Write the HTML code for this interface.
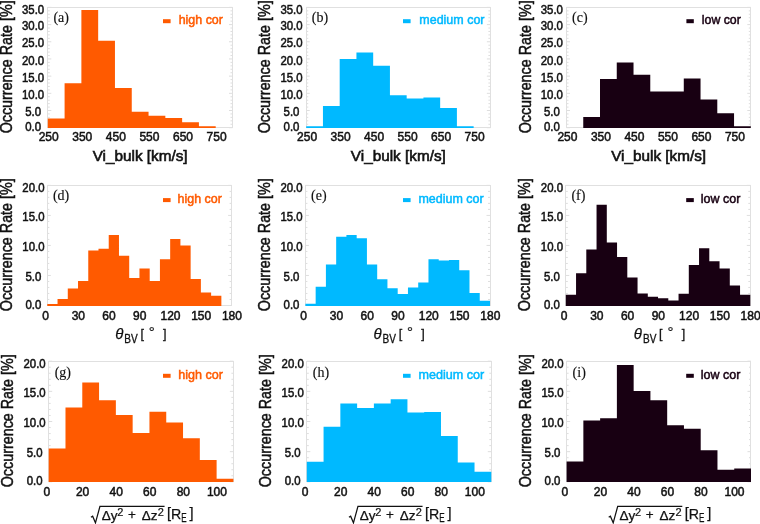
<!DOCTYPE html>
<html><head><meta charset="utf-8"><style>
html,body{margin:0;padding:0;background:#fff;width:760px;height:524px;overflow:hidden}
svg{display:block;will-change:transform}
.tk{font-family:"Liberation Sans", sans-serif;font-size:12px;fill:#111;stroke:#111;stroke-width:0.5px}
.yl{font-family:"Liberation Sans", sans-serif;font-size:16.2px;fill:#111;stroke:#111;stroke-width:0.5px}
.xl{font-family:"Liberation Sans", sans-serif;font-size:14.8px;fill:#111;stroke:#111;stroke-width:0.6px}
.pl{font-family:"Liberation Serif", serif;font-size:14px;fill:#111;stroke:#111;stroke-width:0.15px}
.lg{font-family:"Liberation Sans", sans-serif;font-size:13px;stroke-width:0.5px}
.th{font-family:"Liberation Sans", sans-serif;font-style:italic;font-size:15px;fill:#111;stroke:#111;stroke-width:0.25px}
.sb{font-family:"Liberation Sans", sans-serif;font-size:12px;fill:#111;stroke:#111;stroke-width:0.3px}
.br{font-family:"Liberation Sans", sans-serif;font-size:12.5px;fill:#111;stroke:#111;stroke-width:0.3px}
.br2{font-family:"Liberation Sans", sans-serif;font-size:14.5px;fill:#111;stroke:#111;stroke-width:0.25px}
.pl2{font-size:12.5px;stroke-width:0.6px}
.dg{font-family:"Liberation Sans", sans-serif;font-size:15px;fill:#111;stroke:#111;stroke-width:0.2px}
.fm{font-family:"Liberation Sans", sans-serif;font-size:13.5px;fill:#111;stroke:#111;stroke-width:0.25px}
.sp{font-family:"Liberation Sans", sans-serif;font-size:11px;fill:#111;stroke:#111;stroke-width:0.2px}
.sb2{font-family:"Liberation Sans", sans-serif;font-size:12px;fill:#111;stroke:#111;stroke-width:0.25px}
</style></head><body>
<svg width="760" height="524" viewBox="0 0 760 524">
<rect width="760" height="524" fill="#fff"/>
<line x1="47.8" y1="127.7" x2="51.3" y2="127.7" stroke="#d6d6d6" stroke-width="0.8"/>
<line x1="232.5" y1="127.7" x2="229" y2="127.7" stroke="#d6d6d6" stroke-width="0.8"/>
<line x1="47.8" y1="124.26" x2="49.8" y2="124.26" stroke="#d6d6d6" stroke-width="0.8"/>
<line x1="232.5" y1="124.26" x2="230.5" y2="124.26" stroke="#d6d6d6" stroke-width="0.8"/>
<line x1="47.8" y1="120.83" x2="49.8" y2="120.83" stroke="#d6d6d6" stroke-width="0.8"/>
<line x1="232.5" y1="120.83" x2="230.5" y2="120.83" stroke="#d6d6d6" stroke-width="0.8"/>
<line x1="47.8" y1="117.39" x2="49.8" y2="117.39" stroke="#d6d6d6" stroke-width="0.8"/>
<line x1="232.5" y1="117.39" x2="230.5" y2="117.39" stroke="#d6d6d6" stroke-width="0.8"/>
<line x1="47.8" y1="113.95" x2="49.8" y2="113.95" stroke="#d6d6d6" stroke-width="0.8"/>
<line x1="232.5" y1="113.95" x2="230.5" y2="113.95" stroke="#d6d6d6" stroke-width="0.8"/>
<line x1="47.8" y1="110.51" x2="51.3" y2="110.51" stroke="#d6d6d6" stroke-width="0.8"/>
<line x1="232.5" y1="110.51" x2="229" y2="110.51" stroke="#d6d6d6" stroke-width="0.8"/>
<line x1="47.8" y1="107.08" x2="49.8" y2="107.08" stroke="#d6d6d6" stroke-width="0.8"/>
<line x1="232.5" y1="107.08" x2="230.5" y2="107.08" stroke="#d6d6d6" stroke-width="0.8"/>
<line x1="47.8" y1="103.64" x2="49.8" y2="103.64" stroke="#d6d6d6" stroke-width="0.8"/>
<line x1="232.5" y1="103.64" x2="230.5" y2="103.64" stroke="#d6d6d6" stroke-width="0.8"/>
<line x1="47.8" y1="100.2" x2="49.8" y2="100.2" stroke="#d6d6d6" stroke-width="0.8"/>
<line x1="232.5" y1="100.2" x2="230.5" y2="100.2" stroke="#d6d6d6" stroke-width="0.8"/>
<line x1="47.8" y1="96.77" x2="49.8" y2="96.77" stroke="#d6d6d6" stroke-width="0.8"/>
<line x1="232.5" y1="96.77" x2="230.5" y2="96.77" stroke="#d6d6d6" stroke-width="0.8"/>
<line x1="47.8" y1="93.33" x2="51.3" y2="93.33" stroke="#d6d6d6" stroke-width="0.8"/>
<line x1="232.5" y1="93.33" x2="229" y2="93.33" stroke="#d6d6d6" stroke-width="0.8"/>
<line x1="47.8" y1="89.89" x2="49.8" y2="89.89" stroke="#d6d6d6" stroke-width="0.8"/>
<line x1="232.5" y1="89.89" x2="230.5" y2="89.89" stroke="#d6d6d6" stroke-width="0.8"/>
<line x1="47.8" y1="86.45" x2="49.8" y2="86.45" stroke="#d6d6d6" stroke-width="0.8"/>
<line x1="232.5" y1="86.45" x2="230.5" y2="86.45" stroke="#d6d6d6" stroke-width="0.8"/>
<line x1="47.8" y1="83.02" x2="49.8" y2="83.02" stroke="#d6d6d6" stroke-width="0.8"/>
<line x1="232.5" y1="83.02" x2="230.5" y2="83.02" stroke="#d6d6d6" stroke-width="0.8"/>
<line x1="47.8" y1="79.58" x2="49.8" y2="79.58" stroke="#d6d6d6" stroke-width="0.8"/>
<line x1="232.5" y1="79.58" x2="230.5" y2="79.58" stroke="#d6d6d6" stroke-width="0.8"/>
<line x1="47.8" y1="76.14" x2="51.3" y2="76.14" stroke="#d6d6d6" stroke-width="0.8"/>
<line x1="232.5" y1="76.14" x2="229" y2="76.14" stroke="#d6d6d6" stroke-width="0.8"/>
<line x1="47.8" y1="72.71" x2="49.8" y2="72.71" stroke="#d6d6d6" stroke-width="0.8"/>
<line x1="232.5" y1="72.71" x2="230.5" y2="72.71" stroke="#d6d6d6" stroke-width="0.8"/>
<line x1="47.8" y1="69.27" x2="49.8" y2="69.27" stroke="#d6d6d6" stroke-width="0.8"/>
<line x1="232.5" y1="69.27" x2="230.5" y2="69.27" stroke="#d6d6d6" stroke-width="0.8"/>
<line x1="47.8" y1="65.83" x2="49.8" y2="65.83" stroke="#d6d6d6" stroke-width="0.8"/>
<line x1="232.5" y1="65.83" x2="230.5" y2="65.83" stroke="#d6d6d6" stroke-width="0.8"/>
<line x1="47.8" y1="62.39" x2="49.8" y2="62.39" stroke="#d6d6d6" stroke-width="0.8"/>
<line x1="232.5" y1="62.39" x2="230.5" y2="62.39" stroke="#d6d6d6" stroke-width="0.8"/>
<line x1="47.8" y1="58.96" x2="51.3" y2="58.96" stroke="#d6d6d6" stroke-width="0.8"/>
<line x1="232.5" y1="58.96" x2="229" y2="58.96" stroke="#d6d6d6" stroke-width="0.8"/>
<line x1="47.8" y1="55.52" x2="49.8" y2="55.52" stroke="#d6d6d6" stroke-width="0.8"/>
<line x1="232.5" y1="55.52" x2="230.5" y2="55.52" stroke="#d6d6d6" stroke-width="0.8"/>
<line x1="47.8" y1="52.08" x2="49.8" y2="52.08" stroke="#d6d6d6" stroke-width="0.8"/>
<line x1="232.5" y1="52.08" x2="230.5" y2="52.08" stroke="#d6d6d6" stroke-width="0.8"/>
<line x1="47.8" y1="48.65" x2="49.8" y2="48.65" stroke="#d6d6d6" stroke-width="0.8"/>
<line x1="232.5" y1="48.65" x2="230.5" y2="48.65" stroke="#d6d6d6" stroke-width="0.8"/>
<line x1="47.8" y1="45.21" x2="49.8" y2="45.21" stroke="#d6d6d6" stroke-width="0.8"/>
<line x1="232.5" y1="45.21" x2="230.5" y2="45.21" stroke="#d6d6d6" stroke-width="0.8"/>
<line x1="47.8" y1="41.77" x2="51.3" y2="41.77" stroke="#d6d6d6" stroke-width="0.8"/>
<line x1="232.5" y1="41.77" x2="229" y2="41.77" stroke="#d6d6d6" stroke-width="0.8"/>
<line x1="47.8" y1="38.33" x2="49.8" y2="38.33" stroke="#d6d6d6" stroke-width="0.8"/>
<line x1="232.5" y1="38.33" x2="230.5" y2="38.33" stroke="#d6d6d6" stroke-width="0.8"/>
<line x1="47.8" y1="34.9" x2="49.8" y2="34.9" stroke="#d6d6d6" stroke-width="0.8"/>
<line x1="232.5" y1="34.9" x2="230.5" y2="34.9" stroke="#d6d6d6" stroke-width="0.8"/>
<line x1="47.8" y1="31.46" x2="49.8" y2="31.46" stroke="#d6d6d6" stroke-width="0.8"/>
<line x1="232.5" y1="31.46" x2="230.5" y2="31.46" stroke="#d6d6d6" stroke-width="0.8"/>
<line x1="47.8" y1="28.02" x2="49.8" y2="28.02" stroke="#d6d6d6" stroke-width="0.8"/>
<line x1="232.5" y1="28.02" x2="230.5" y2="28.02" stroke="#d6d6d6" stroke-width="0.8"/>
<line x1="47.8" y1="24.59" x2="51.3" y2="24.59" stroke="#d6d6d6" stroke-width="0.8"/>
<line x1="232.5" y1="24.59" x2="229" y2="24.59" stroke="#d6d6d6" stroke-width="0.8"/>
<line x1="47.8" y1="21.15" x2="49.8" y2="21.15" stroke="#d6d6d6" stroke-width="0.8"/>
<line x1="232.5" y1="21.15" x2="230.5" y2="21.15" stroke="#d6d6d6" stroke-width="0.8"/>
<line x1="47.8" y1="17.71" x2="49.8" y2="17.71" stroke="#d6d6d6" stroke-width="0.8"/>
<line x1="232.5" y1="17.71" x2="230.5" y2="17.71" stroke="#d6d6d6" stroke-width="0.8"/>
<line x1="47.8" y1="14.27" x2="49.8" y2="14.27" stroke="#d6d6d6" stroke-width="0.8"/>
<line x1="232.5" y1="14.27" x2="230.5" y2="14.27" stroke="#d6d6d6" stroke-width="0.8"/>
<line x1="47.8" y1="10.84" x2="49.8" y2="10.84" stroke="#d6d6d6" stroke-width="0.8"/>
<line x1="232.5" y1="10.84" x2="230.5" y2="10.84" stroke="#d6d6d6" stroke-width="0.8"/>
<line x1="47.8" y1="7.4" x2="51.3" y2="7.4" stroke="#d6d6d6" stroke-width="0.8"/>
<line x1="232.5" y1="7.4" x2="229" y2="7.4" stroke="#d6d6d6" stroke-width="0.8"/>
<rect x="47.5" y="7.5" width="185" height="120" fill="none" stroke="#e0e0e0" stroke-width="1"/>
<path d="M47.8 128 L47.8 118.4 L64.59 118.4 L64.59 83.2 L81.38 83.2 L81.38 10 L98.17 10 L98.17 40.8 L114.96 40.8 L114.96 87.9 L131.75 87.9 L131.75 111.8 L148.55 111.8 L148.55 115.8 L165.34 115.8 L165.34 117.9 L182.13 117.9 L182.13 122.2 L198.92 122.2 L198.92 126.2 L215.71 126.2 L215.71 128 Z" fill="#FF5A00"/>
<text x="33.1" y="131.1" text-anchor="middle" class="tk" textLength="15.85" lengthAdjust="spacingAndGlyphs">0.0</text>
<text x="33.1" y="116.11" text-anchor="middle" class="tk" textLength="15.85" lengthAdjust="spacingAndGlyphs">5.0</text>
<text x="33.1" y="98.93" text-anchor="middle" class="tk" textLength="22.18" lengthAdjust="spacingAndGlyphs">10.0</text>
<text x="33.1" y="81.74" text-anchor="middle" class="tk" textLength="22.18" lengthAdjust="spacingAndGlyphs">15.0</text>
<text x="33.1" y="64.56" text-anchor="middle" class="tk" textLength="22.18" lengthAdjust="spacingAndGlyphs">20.0</text>
<text x="33.1" y="47.37" text-anchor="middle" class="tk" textLength="22.18" lengthAdjust="spacingAndGlyphs">25.0</text>
<text x="33.1" y="30.19" text-anchor="middle" class="tk" textLength="22.18" lengthAdjust="spacingAndGlyphs">30.0</text>
<text x="33.1" y="13.8" text-anchor="middle" class="tk" textLength="22.18" lengthAdjust="spacingAndGlyphs">35.0</text>
<text x="48.7" y="140.7" text-anchor="middle" class="tk">250</text>
<text x="82.28" y="140.7" text-anchor="middle" class="tk">350</text>
<text x="115.86" y="140.7" text-anchor="middle" class="tk">450</text>
<text x="149.45" y="140.7" text-anchor="middle" class="tk">550</text>
<text x="183.03" y="140.7" text-anchor="middle" class="tk">650</text>
<text x="216.61" y="140.7" text-anchor="middle" class="tk">750</text>
<text transform="translate(12,66.85) rotate(-90)" text-anchor="middle" class="yl" textLength="133" lengthAdjust="spacingAndGlyphs">Occurrence Rate [%]</text>
<text x="53.4" y="22" class="pl">(a)</text>
<rect x="163" y="19.2" width="7.6" height="4" fill="#FF5A00"/>
<text x="178.7" y="24.3" class="lg" fill="#FF5A00" stroke="#FF5A00" textLength="44.2" lengthAdjust="spacingAndGlyphs">high cor</text>
<text x="140.15" y="161.3" text-anchor="middle" class="xl" textLength="95" lengthAdjust="spacingAndGlyphs">Vi_bulk [km/s]</text>
<line x1="306.2" y1="127.7" x2="309.7" y2="127.7" stroke="#d6d6d6" stroke-width="0.8"/>
<line x1="490.4" y1="127.7" x2="486.9" y2="127.7" stroke="#d6d6d6" stroke-width="0.8"/>
<line x1="306.2" y1="124.26" x2="308.2" y2="124.26" stroke="#d6d6d6" stroke-width="0.8"/>
<line x1="490.4" y1="124.26" x2="488.4" y2="124.26" stroke="#d6d6d6" stroke-width="0.8"/>
<line x1="306.2" y1="120.83" x2="308.2" y2="120.83" stroke="#d6d6d6" stroke-width="0.8"/>
<line x1="490.4" y1="120.83" x2="488.4" y2="120.83" stroke="#d6d6d6" stroke-width="0.8"/>
<line x1="306.2" y1="117.39" x2="308.2" y2="117.39" stroke="#d6d6d6" stroke-width="0.8"/>
<line x1="490.4" y1="117.39" x2="488.4" y2="117.39" stroke="#d6d6d6" stroke-width="0.8"/>
<line x1="306.2" y1="113.95" x2="308.2" y2="113.95" stroke="#d6d6d6" stroke-width="0.8"/>
<line x1="490.4" y1="113.95" x2="488.4" y2="113.95" stroke="#d6d6d6" stroke-width="0.8"/>
<line x1="306.2" y1="110.51" x2="309.7" y2="110.51" stroke="#d6d6d6" stroke-width="0.8"/>
<line x1="490.4" y1="110.51" x2="486.9" y2="110.51" stroke="#d6d6d6" stroke-width="0.8"/>
<line x1="306.2" y1="107.08" x2="308.2" y2="107.08" stroke="#d6d6d6" stroke-width="0.8"/>
<line x1="490.4" y1="107.08" x2="488.4" y2="107.08" stroke="#d6d6d6" stroke-width="0.8"/>
<line x1="306.2" y1="103.64" x2="308.2" y2="103.64" stroke="#d6d6d6" stroke-width="0.8"/>
<line x1="490.4" y1="103.64" x2="488.4" y2="103.64" stroke="#d6d6d6" stroke-width="0.8"/>
<line x1="306.2" y1="100.2" x2="308.2" y2="100.2" stroke="#d6d6d6" stroke-width="0.8"/>
<line x1="490.4" y1="100.2" x2="488.4" y2="100.2" stroke="#d6d6d6" stroke-width="0.8"/>
<line x1="306.2" y1="96.77" x2="308.2" y2="96.77" stroke="#d6d6d6" stroke-width="0.8"/>
<line x1="490.4" y1="96.77" x2="488.4" y2="96.77" stroke="#d6d6d6" stroke-width="0.8"/>
<line x1="306.2" y1="93.33" x2="309.7" y2="93.33" stroke="#d6d6d6" stroke-width="0.8"/>
<line x1="490.4" y1="93.33" x2="486.9" y2="93.33" stroke="#d6d6d6" stroke-width="0.8"/>
<line x1="306.2" y1="89.89" x2="308.2" y2="89.89" stroke="#d6d6d6" stroke-width="0.8"/>
<line x1="490.4" y1="89.89" x2="488.4" y2="89.89" stroke="#d6d6d6" stroke-width="0.8"/>
<line x1="306.2" y1="86.45" x2="308.2" y2="86.45" stroke="#d6d6d6" stroke-width="0.8"/>
<line x1="490.4" y1="86.45" x2="488.4" y2="86.45" stroke="#d6d6d6" stroke-width="0.8"/>
<line x1="306.2" y1="83.02" x2="308.2" y2="83.02" stroke="#d6d6d6" stroke-width="0.8"/>
<line x1="490.4" y1="83.02" x2="488.4" y2="83.02" stroke="#d6d6d6" stroke-width="0.8"/>
<line x1="306.2" y1="79.58" x2="308.2" y2="79.58" stroke="#d6d6d6" stroke-width="0.8"/>
<line x1="490.4" y1="79.58" x2="488.4" y2="79.58" stroke="#d6d6d6" stroke-width="0.8"/>
<line x1="306.2" y1="76.14" x2="309.7" y2="76.14" stroke="#d6d6d6" stroke-width="0.8"/>
<line x1="490.4" y1="76.14" x2="486.9" y2="76.14" stroke="#d6d6d6" stroke-width="0.8"/>
<line x1="306.2" y1="72.71" x2="308.2" y2="72.71" stroke="#d6d6d6" stroke-width="0.8"/>
<line x1="490.4" y1="72.71" x2="488.4" y2="72.71" stroke="#d6d6d6" stroke-width="0.8"/>
<line x1="306.2" y1="69.27" x2="308.2" y2="69.27" stroke="#d6d6d6" stroke-width="0.8"/>
<line x1="490.4" y1="69.27" x2="488.4" y2="69.27" stroke="#d6d6d6" stroke-width="0.8"/>
<line x1="306.2" y1="65.83" x2="308.2" y2="65.83" stroke="#d6d6d6" stroke-width="0.8"/>
<line x1="490.4" y1="65.83" x2="488.4" y2="65.83" stroke="#d6d6d6" stroke-width="0.8"/>
<line x1="306.2" y1="62.39" x2="308.2" y2="62.39" stroke="#d6d6d6" stroke-width="0.8"/>
<line x1="490.4" y1="62.39" x2="488.4" y2="62.39" stroke="#d6d6d6" stroke-width="0.8"/>
<line x1="306.2" y1="58.96" x2="309.7" y2="58.96" stroke="#d6d6d6" stroke-width="0.8"/>
<line x1="490.4" y1="58.96" x2="486.9" y2="58.96" stroke="#d6d6d6" stroke-width="0.8"/>
<line x1="306.2" y1="55.52" x2="308.2" y2="55.52" stroke="#d6d6d6" stroke-width="0.8"/>
<line x1="490.4" y1="55.52" x2="488.4" y2="55.52" stroke="#d6d6d6" stroke-width="0.8"/>
<line x1="306.2" y1="52.08" x2="308.2" y2="52.08" stroke="#d6d6d6" stroke-width="0.8"/>
<line x1="490.4" y1="52.08" x2="488.4" y2="52.08" stroke="#d6d6d6" stroke-width="0.8"/>
<line x1="306.2" y1="48.65" x2="308.2" y2="48.65" stroke="#d6d6d6" stroke-width="0.8"/>
<line x1="490.4" y1="48.65" x2="488.4" y2="48.65" stroke="#d6d6d6" stroke-width="0.8"/>
<line x1="306.2" y1="45.21" x2="308.2" y2="45.21" stroke="#d6d6d6" stroke-width="0.8"/>
<line x1="490.4" y1="45.21" x2="488.4" y2="45.21" stroke="#d6d6d6" stroke-width="0.8"/>
<line x1="306.2" y1="41.77" x2="309.7" y2="41.77" stroke="#d6d6d6" stroke-width="0.8"/>
<line x1="490.4" y1="41.77" x2="486.9" y2="41.77" stroke="#d6d6d6" stroke-width="0.8"/>
<line x1="306.2" y1="38.33" x2="308.2" y2="38.33" stroke="#d6d6d6" stroke-width="0.8"/>
<line x1="490.4" y1="38.33" x2="488.4" y2="38.33" stroke="#d6d6d6" stroke-width="0.8"/>
<line x1="306.2" y1="34.9" x2="308.2" y2="34.9" stroke="#d6d6d6" stroke-width="0.8"/>
<line x1="490.4" y1="34.9" x2="488.4" y2="34.9" stroke="#d6d6d6" stroke-width="0.8"/>
<line x1="306.2" y1="31.46" x2="308.2" y2="31.46" stroke="#d6d6d6" stroke-width="0.8"/>
<line x1="490.4" y1="31.46" x2="488.4" y2="31.46" stroke="#d6d6d6" stroke-width="0.8"/>
<line x1="306.2" y1="28.02" x2="308.2" y2="28.02" stroke="#d6d6d6" stroke-width="0.8"/>
<line x1="490.4" y1="28.02" x2="488.4" y2="28.02" stroke="#d6d6d6" stroke-width="0.8"/>
<line x1="306.2" y1="24.59" x2="309.7" y2="24.59" stroke="#d6d6d6" stroke-width="0.8"/>
<line x1="490.4" y1="24.59" x2="486.9" y2="24.59" stroke="#d6d6d6" stroke-width="0.8"/>
<line x1="306.2" y1="21.15" x2="308.2" y2="21.15" stroke="#d6d6d6" stroke-width="0.8"/>
<line x1="490.4" y1="21.15" x2="488.4" y2="21.15" stroke="#d6d6d6" stroke-width="0.8"/>
<line x1="306.2" y1="17.71" x2="308.2" y2="17.71" stroke="#d6d6d6" stroke-width="0.8"/>
<line x1="490.4" y1="17.71" x2="488.4" y2="17.71" stroke="#d6d6d6" stroke-width="0.8"/>
<line x1="306.2" y1="14.27" x2="308.2" y2="14.27" stroke="#d6d6d6" stroke-width="0.8"/>
<line x1="490.4" y1="14.27" x2="488.4" y2="14.27" stroke="#d6d6d6" stroke-width="0.8"/>
<line x1="306.2" y1="10.84" x2="308.2" y2="10.84" stroke="#d6d6d6" stroke-width="0.8"/>
<line x1="490.4" y1="10.84" x2="488.4" y2="10.84" stroke="#d6d6d6" stroke-width="0.8"/>
<line x1="306.2" y1="7.4" x2="309.7" y2="7.4" stroke="#d6d6d6" stroke-width="0.8"/>
<line x1="490.4" y1="7.4" x2="486.9" y2="7.4" stroke="#d6d6d6" stroke-width="0.8"/>
<rect x="306.5" y="7.5" width="184" height="120" fill="none" stroke="#e0e0e0" stroke-width="1"/>
<path d="M306.2 128 L306.2 126.2 L322.95 126.2 L322.95 106 L339.69 106 L339.69 59 L356.44 59 L356.44 52.6 L373.18 52.6 L373.18 65.8 L389.93 65.8 L389.93 95.3 L406.67 95.3 L406.67 98.4 L423.42 98.4 L423.42 97.4 L440.16 97.4 L440.16 107.9 L456.91 107.9 L456.91 126.2 L473.65 126.2 L473.65 128 Z" fill="#00B9FF"/>
<text x="291.5" y="131.1" text-anchor="middle" class="tk" textLength="15.85" lengthAdjust="spacingAndGlyphs">0.0</text>
<text x="291.5" y="116.11" text-anchor="middle" class="tk" textLength="15.85" lengthAdjust="spacingAndGlyphs">5.0</text>
<text x="291.5" y="98.93" text-anchor="middle" class="tk" textLength="22.18" lengthAdjust="spacingAndGlyphs">10.0</text>
<text x="291.5" y="81.74" text-anchor="middle" class="tk" textLength="22.18" lengthAdjust="spacingAndGlyphs">15.0</text>
<text x="291.5" y="64.56" text-anchor="middle" class="tk" textLength="22.18" lengthAdjust="spacingAndGlyphs">20.0</text>
<text x="291.5" y="47.37" text-anchor="middle" class="tk" textLength="22.18" lengthAdjust="spacingAndGlyphs">25.0</text>
<text x="291.5" y="30.19" text-anchor="middle" class="tk" textLength="22.18" lengthAdjust="spacingAndGlyphs">30.0</text>
<text x="291.5" y="13.8" text-anchor="middle" class="tk" textLength="22.18" lengthAdjust="spacingAndGlyphs">35.0</text>
<text x="307.1" y="140.7" text-anchor="middle" class="tk">250</text>
<text x="340.59" y="140.7" text-anchor="middle" class="tk">350</text>
<text x="374.08" y="140.7" text-anchor="middle" class="tk">450</text>
<text x="407.57" y="140.7" text-anchor="middle" class="tk">550</text>
<text x="441.06" y="140.7" text-anchor="middle" class="tk">650</text>
<text x="474.55" y="140.7" text-anchor="middle" class="tk">750</text>
<text transform="translate(270.4,66.85) rotate(-90)" text-anchor="middle" class="yl" textLength="133" lengthAdjust="spacingAndGlyphs">Occurrence Rate [%]</text>
<text x="311.8" y="22" class="pl">(b)</text>
<rect x="403" y="19.2" width="7.6" height="4" fill="#00B9FF"/>
<text x="419.3" y="24.3" class="lg" fill="#00B9FF" stroke="#00B9FF" textLength="65.2" lengthAdjust="spacingAndGlyphs">medium cor</text>
<text x="398.3" y="161.3" text-anchor="middle" class="xl" textLength="95" lengthAdjust="spacingAndGlyphs">Vi_bulk [km/s]</text>
<line x1="566.5" y1="127.7" x2="570" y2="127.7" stroke="#d6d6d6" stroke-width="0.8"/>
<line x1="750.8" y1="127.7" x2="747.3" y2="127.7" stroke="#d6d6d6" stroke-width="0.8"/>
<line x1="566.5" y1="124.26" x2="568.5" y2="124.26" stroke="#d6d6d6" stroke-width="0.8"/>
<line x1="750.8" y1="124.26" x2="748.8" y2="124.26" stroke="#d6d6d6" stroke-width="0.8"/>
<line x1="566.5" y1="120.83" x2="568.5" y2="120.83" stroke="#d6d6d6" stroke-width="0.8"/>
<line x1="750.8" y1="120.83" x2="748.8" y2="120.83" stroke="#d6d6d6" stroke-width="0.8"/>
<line x1="566.5" y1="117.39" x2="568.5" y2="117.39" stroke="#d6d6d6" stroke-width="0.8"/>
<line x1="750.8" y1="117.39" x2="748.8" y2="117.39" stroke="#d6d6d6" stroke-width="0.8"/>
<line x1="566.5" y1="113.95" x2="568.5" y2="113.95" stroke="#d6d6d6" stroke-width="0.8"/>
<line x1="750.8" y1="113.95" x2="748.8" y2="113.95" stroke="#d6d6d6" stroke-width="0.8"/>
<line x1="566.5" y1="110.51" x2="570" y2="110.51" stroke="#d6d6d6" stroke-width="0.8"/>
<line x1="750.8" y1="110.51" x2="747.3" y2="110.51" stroke="#d6d6d6" stroke-width="0.8"/>
<line x1="566.5" y1="107.08" x2="568.5" y2="107.08" stroke="#d6d6d6" stroke-width="0.8"/>
<line x1="750.8" y1="107.08" x2="748.8" y2="107.08" stroke="#d6d6d6" stroke-width="0.8"/>
<line x1="566.5" y1="103.64" x2="568.5" y2="103.64" stroke="#d6d6d6" stroke-width="0.8"/>
<line x1="750.8" y1="103.64" x2="748.8" y2="103.64" stroke="#d6d6d6" stroke-width="0.8"/>
<line x1="566.5" y1="100.2" x2="568.5" y2="100.2" stroke="#d6d6d6" stroke-width="0.8"/>
<line x1="750.8" y1="100.2" x2="748.8" y2="100.2" stroke="#d6d6d6" stroke-width="0.8"/>
<line x1="566.5" y1="96.77" x2="568.5" y2="96.77" stroke="#d6d6d6" stroke-width="0.8"/>
<line x1="750.8" y1="96.77" x2="748.8" y2="96.77" stroke="#d6d6d6" stroke-width="0.8"/>
<line x1="566.5" y1="93.33" x2="570" y2="93.33" stroke="#d6d6d6" stroke-width="0.8"/>
<line x1="750.8" y1="93.33" x2="747.3" y2="93.33" stroke="#d6d6d6" stroke-width="0.8"/>
<line x1="566.5" y1="89.89" x2="568.5" y2="89.89" stroke="#d6d6d6" stroke-width="0.8"/>
<line x1="750.8" y1="89.89" x2="748.8" y2="89.89" stroke="#d6d6d6" stroke-width="0.8"/>
<line x1="566.5" y1="86.45" x2="568.5" y2="86.45" stroke="#d6d6d6" stroke-width="0.8"/>
<line x1="750.8" y1="86.45" x2="748.8" y2="86.45" stroke="#d6d6d6" stroke-width="0.8"/>
<line x1="566.5" y1="83.02" x2="568.5" y2="83.02" stroke="#d6d6d6" stroke-width="0.8"/>
<line x1="750.8" y1="83.02" x2="748.8" y2="83.02" stroke="#d6d6d6" stroke-width="0.8"/>
<line x1="566.5" y1="79.58" x2="568.5" y2="79.58" stroke="#d6d6d6" stroke-width="0.8"/>
<line x1="750.8" y1="79.58" x2="748.8" y2="79.58" stroke="#d6d6d6" stroke-width="0.8"/>
<line x1="566.5" y1="76.14" x2="570" y2="76.14" stroke="#d6d6d6" stroke-width="0.8"/>
<line x1="750.8" y1="76.14" x2="747.3" y2="76.14" stroke="#d6d6d6" stroke-width="0.8"/>
<line x1="566.5" y1="72.71" x2="568.5" y2="72.71" stroke="#d6d6d6" stroke-width="0.8"/>
<line x1="750.8" y1="72.71" x2="748.8" y2="72.71" stroke="#d6d6d6" stroke-width="0.8"/>
<line x1="566.5" y1="69.27" x2="568.5" y2="69.27" stroke="#d6d6d6" stroke-width="0.8"/>
<line x1="750.8" y1="69.27" x2="748.8" y2="69.27" stroke="#d6d6d6" stroke-width="0.8"/>
<line x1="566.5" y1="65.83" x2="568.5" y2="65.83" stroke="#d6d6d6" stroke-width="0.8"/>
<line x1="750.8" y1="65.83" x2="748.8" y2="65.83" stroke="#d6d6d6" stroke-width="0.8"/>
<line x1="566.5" y1="62.39" x2="568.5" y2="62.39" stroke="#d6d6d6" stroke-width="0.8"/>
<line x1="750.8" y1="62.39" x2="748.8" y2="62.39" stroke="#d6d6d6" stroke-width="0.8"/>
<line x1="566.5" y1="58.96" x2="570" y2="58.96" stroke="#d6d6d6" stroke-width="0.8"/>
<line x1="750.8" y1="58.96" x2="747.3" y2="58.96" stroke="#d6d6d6" stroke-width="0.8"/>
<line x1="566.5" y1="55.52" x2="568.5" y2="55.52" stroke="#d6d6d6" stroke-width="0.8"/>
<line x1="750.8" y1="55.52" x2="748.8" y2="55.52" stroke="#d6d6d6" stroke-width="0.8"/>
<line x1="566.5" y1="52.08" x2="568.5" y2="52.08" stroke="#d6d6d6" stroke-width="0.8"/>
<line x1="750.8" y1="52.08" x2="748.8" y2="52.08" stroke="#d6d6d6" stroke-width="0.8"/>
<line x1="566.5" y1="48.65" x2="568.5" y2="48.65" stroke="#d6d6d6" stroke-width="0.8"/>
<line x1="750.8" y1="48.65" x2="748.8" y2="48.65" stroke="#d6d6d6" stroke-width="0.8"/>
<line x1="566.5" y1="45.21" x2="568.5" y2="45.21" stroke="#d6d6d6" stroke-width="0.8"/>
<line x1="750.8" y1="45.21" x2="748.8" y2="45.21" stroke="#d6d6d6" stroke-width="0.8"/>
<line x1="566.5" y1="41.77" x2="570" y2="41.77" stroke="#d6d6d6" stroke-width="0.8"/>
<line x1="750.8" y1="41.77" x2="747.3" y2="41.77" stroke="#d6d6d6" stroke-width="0.8"/>
<line x1="566.5" y1="38.33" x2="568.5" y2="38.33" stroke="#d6d6d6" stroke-width="0.8"/>
<line x1="750.8" y1="38.33" x2="748.8" y2="38.33" stroke="#d6d6d6" stroke-width="0.8"/>
<line x1="566.5" y1="34.9" x2="568.5" y2="34.9" stroke="#d6d6d6" stroke-width="0.8"/>
<line x1="750.8" y1="34.9" x2="748.8" y2="34.9" stroke="#d6d6d6" stroke-width="0.8"/>
<line x1="566.5" y1="31.46" x2="568.5" y2="31.46" stroke="#d6d6d6" stroke-width="0.8"/>
<line x1="750.8" y1="31.46" x2="748.8" y2="31.46" stroke="#d6d6d6" stroke-width="0.8"/>
<line x1="566.5" y1="28.02" x2="568.5" y2="28.02" stroke="#d6d6d6" stroke-width="0.8"/>
<line x1="750.8" y1="28.02" x2="748.8" y2="28.02" stroke="#d6d6d6" stroke-width="0.8"/>
<line x1="566.5" y1="24.59" x2="570" y2="24.59" stroke="#d6d6d6" stroke-width="0.8"/>
<line x1="750.8" y1="24.59" x2="747.3" y2="24.59" stroke="#d6d6d6" stroke-width="0.8"/>
<line x1="566.5" y1="21.15" x2="568.5" y2="21.15" stroke="#d6d6d6" stroke-width="0.8"/>
<line x1="750.8" y1="21.15" x2="748.8" y2="21.15" stroke="#d6d6d6" stroke-width="0.8"/>
<line x1="566.5" y1="17.71" x2="568.5" y2="17.71" stroke="#d6d6d6" stroke-width="0.8"/>
<line x1="750.8" y1="17.71" x2="748.8" y2="17.71" stroke="#d6d6d6" stroke-width="0.8"/>
<line x1="566.5" y1="14.27" x2="568.5" y2="14.27" stroke="#d6d6d6" stroke-width="0.8"/>
<line x1="750.8" y1="14.27" x2="748.8" y2="14.27" stroke="#d6d6d6" stroke-width="0.8"/>
<line x1="566.5" y1="10.84" x2="568.5" y2="10.84" stroke="#d6d6d6" stroke-width="0.8"/>
<line x1="750.8" y1="10.84" x2="748.8" y2="10.84" stroke="#d6d6d6" stroke-width="0.8"/>
<line x1="566.5" y1="7.4" x2="570" y2="7.4" stroke="#d6d6d6" stroke-width="0.8"/>
<line x1="750.8" y1="7.4" x2="747.3" y2="7.4" stroke="#d6d6d6" stroke-width="0.8"/>
<rect x="566.5" y="7.5" width="184" height="120" fill="none" stroke="#e0e0e0" stroke-width="1"/>
<path d="M583.25 128 L583.25 117.1 L600.01 117.1 L600.01 79 L616.76 79 L616.76 62.4 L633.52 62.4 L633.52 74.7 L650.27 74.7 L650.27 91.6 L667.03 91.6 L667.03 91.6 L683.78 91.6 L683.78 78.4 L700.54 78.4 L700.54 99.5 L717.29 99.5 L717.29 113.3 L734.05 113.3 L734.05 126.2 L750.8 126.2 L750.8 128 Z" fill="#180012"/>
<text x="551.8" y="131.1" text-anchor="middle" class="tk" textLength="15.85" lengthAdjust="spacingAndGlyphs">0.0</text>
<text x="551.8" y="116.11" text-anchor="middle" class="tk" textLength="15.85" lengthAdjust="spacingAndGlyphs">5.0</text>
<text x="551.8" y="98.93" text-anchor="middle" class="tk" textLength="22.18" lengthAdjust="spacingAndGlyphs">10.0</text>
<text x="551.8" y="81.74" text-anchor="middle" class="tk" textLength="22.18" lengthAdjust="spacingAndGlyphs">15.0</text>
<text x="551.8" y="64.56" text-anchor="middle" class="tk" textLength="22.18" lengthAdjust="spacingAndGlyphs">20.0</text>
<text x="551.8" y="47.37" text-anchor="middle" class="tk" textLength="22.18" lengthAdjust="spacingAndGlyphs">25.0</text>
<text x="551.8" y="30.19" text-anchor="middle" class="tk" textLength="22.18" lengthAdjust="spacingAndGlyphs">30.0</text>
<text x="551.8" y="13.8" text-anchor="middle" class="tk" textLength="22.18" lengthAdjust="spacingAndGlyphs">35.0</text>
<text x="567.4" y="140.7" text-anchor="middle" class="tk">250</text>
<text x="600.91" y="140.7" text-anchor="middle" class="tk">350</text>
<text x="634.42" y="140.7" text-anchor="middle" class="tk">450</text>
<text x="667.93" y="140.7" text-anchor="middle" class="tk">550</text>
<text x="701.44" y="140.7" text-anchor="middle" class="tk">650</text>
<text x="734.95" y="140.7" text-anchor="middle" class="tk">750</text>
<text transform="translate(530.7,66.85) rotate(-90)" text-anchor="middle" class="yl" textLength="133" lengthAdjust="spacingAndGlyphs">Occurrence Rate [%]</text>
<text x="572.1" y="22" class="pl">(c)</text>
<rect x="686.4" y="19.2" width="7.4" height="4" fill="#180012"/>
<text x="701.8" y="24.3" class="lg" fill="#180012" stroke="#180012" textLength="39" lengthAdjust="spacingAndGlyphs">low cor</text>
<text x="658.65" y="161.3" text-anchor="middle" class="xl" textLength="95" lengthAdjust="spacingAndGlyphs">Vi_bulk [km/s]</text>
<line x1="47.3" y1="305.5" x2="50.8" y2="305.5" stroke="#d6d6d6" stroke-width="0.8"/>
<line x1="231.6" y1="305.5" x2="228.1" y2="305.5" stroke="#d6d6d6" stroke-width="0.8"/>
<line x1="47.3" y1="299.5" x2="49.3" y2="299.5" stroke="#d6d6d6" stroke-width="0.8"/>
<line x1="231.6" y1="299.5" x2="229.6" y2="299.5" stroke="#d6d6d6" stroke-width="0.8"/>
<line x1="47.3" y1="293.49" x2="49.3" y2="293.49" stroke="#d6d6d6" stroke-width="0.8"/>
<line x1="231.6" y1="293.49" x2="229.6" y2="293.49" stroke="#d6d6d6" stroke-width="0.8"/>
<line x1="47.3" y1="287.49" x2="49.3" y2="287.49" stroke="#d6d6d6" stroke-width="0.8"/>
<line x1="231.6" y1="287.49" x2="229.6" y2="287.49" stroke="#d6d6d6" stroke-width="0.8"/>
<line x1="47.3" y1="281.48" x2="49.3" y2="281.48" stroke="#d6d6d6" stroke-width="0.8"/>
<line x1="231.6" y1="281.48" x2="229.6" y2="281.48" stroke="#d6d6d6" stroke-width="0.8"/>
<line x1="47.3" y1="275.48" x2="50.8" y2="275.48" stroke="#d6d6d6" stroke-width="0.8"/>
<line x1="231.6" y1="275.48" x2="228.1" y2="275.48" stroke="#d6d6d6" stroke-width="0.8"/>
<line x1="47.3" y1="269.47" x2="49.3" y2="269.47" stroke="#d6d6d6" stroke-width="0.8"/>
<line x1="231.6" y1="269.47" x2="229.6" y2="269.47" stroke="#d6d6d6" stroke-width="0.8"/>
<line x1="47.3" y1="263.47" x2="49.3" y2="263.47" stroke="#d6d6d6" stroke-width="0.8"/>
<line x1="231.6" y1="263.47" x2="229.6" y2="263.47" stroke="#d6d6d6" stroke-width="0.8"/>
<line x1="47.3" y1="257.46" x2="49.3" y2="257.46" stroke="#d6d6d6" stroke-width="0.8"/>
<line x1="231.6" y1="257.46" x2="229.6" y2="257.46" stroke="#d6d6d6" stroke-width="0.8"/>
<line x1="47.3" y1="251.46" x2="49.3" y2="251.46" stroke="#d6d6d6" stroke-width="0.8"/>
<line x1="231.6" y1="251.46" x2="229.6" y2="251.46" stroke="#d6d6d6" stroke-width="0.8"/>
<line x1="47.3" y1="245.45" x2="50.8" y2="245.45" stroke="#d6d6d6" stroke-width="0.8"/>
<line x1="231.6" y1="245.45" x2="228.1" y2="245.45" stroke="#d6d6d6" stroke-width="0.8"/>
<line x1="47.3" y1="239.44" x2="49.3" y2="239.44" stroke="#d6d6d6" stroke-width="0.8"/>
<line x1="231.6" y1="239.44" x2="229.6" y2="239.44" stroke="#d6d6d6" stroke-width="0.8"/>
<line x1="47.3" y1="233.44" x2="49.3" y2="233.44" stroke="#d6d6d6" stroke-width="0.8"/>
<line x1="231.6" y1="233.44" x2="229.6" y2="233.44" stroke="#d6d6d6" stroke-width="0.8"/>
<line x1="47.3" y1="227.44" x2="49.3" y2="227.44" stroke="#d6d6d6" stroke-width="0.8"/>
<line x1="231.6" y1="227.44" x2="229.6" y2="227.44" stroke="#d6d6d6" stroke-width="0.8"/>
<line x1="47.3" y1="221.43" x2="49.3" y2="221.43" stroke="#d6d6d6" stroke-width="0.8"/>
<line x1="231.6" y1="221.43" x2="229.6" y2="221.43" stroke="#d6d6d6" stroke-width="0.8"/>
<line x1="47.3" y1="215.43" x2="50.8" y2="215.43" stroke="#d6d6d6" stroke-width="0.8"/>
<line x1="231.6" y1="215.43" x2="228.1" y2="215.43" stroke="#d6d6d6" stroke-width="0.8"/>
<line x1="47.3" y1="209.42" x2="49.3" y2="209.42" stroke="#d6d6d6" stroke-width="0.8"/>
<line x1="231.6" y1="209.42" x2="229.6" y2="209.42" stroke="#d6d6d6" stroke-width="0.8"/>
<line x1="47.3" y1="203.42" x2="49.3" y2="203.42" stroke="#d6d6d6" stroke-width="0.8"/>
<line x1="231.6" y1="203.42" x2="229.6" y2="203.42" stroke="#d6d6d6" stroke-width="0.8"/>
<line x1="47.3" y1="197.41" x2="49.3" y2="197.41" stroke="#d6d6d6" stroke-width="0.8"/>
<line x1="231.6" y1="197.41" x2="229.6" y2="197.41" stroke="#d6d6d6" stroke-width="0.8"/>
<line x1="47.3" y1="191.41" x2="49.3" y2="191.41" stroke="#d6d6d6" stroke-width="0.8"/>
<line x1="231.6" y1="191.41" x2="229.6" y2="191.41" stroke="#d6d6d6" stroke-width="0.8"/>
<line x1="47.3" y1="185.4" x2="50.8" y2="185.4" stroke="#d6d6d6" stroke-width="0.8"/>
<line x1="231.6" y1="185.4" x2="228.1" y2="185.4" stroke="#d6d6d6" stroke-width="0.8"/>
<rect x="47.5" y="185.5" width="184" height="120" fill="none" stroke="#e0e0e0" stroke-width="1"/>
<path d="M47.3 306 L47.3 304 L57.54 304 L57.54 298.9 L67.78 298.9 L67.78 288.4 L78.02 288.4 L78.02 281 L88.26 281 L88.26 250.5 L98.49 250.5 L98.49 248.7 L108.73 248.7 L108.73 235 L118.97 235 L118.97 255.8 L129.21 255.8 L129.21 277.9 L139.45 277.9 L139.45 268.4 L149.69 268.4 L149.69 281 L159.93 281 L159.93 259.2 L170.17 259.2 L170.17 239 L180.41 239 L180.41 245.5 L190.64 245.5 L190.64 279 L200.88 279 L200.88 292.6 L211.12 292.6 L211.12 295.8 L221.36 295.8 L221.36 306 Z" fill="#FF5A00"/>
<text x="33.4" y="308.9" text-anchor="middle" class="tk" textLength="15.85" lengthAdjust="spacingAndGlyphs">0.0</text>
<text x="33.4" y="281.07" text-anchor="middle" class="tk" textLength="15.85" lengthAdjust="spacingAndGlyphs">5.0</text>
<text x="33.4" y="251.05" text-anchor="middle" class="tk" textLength="22.18" lengthAdjust="spacingAndGlyphs">10.0</text>
<text x="33.4" y="221.03" text-anchor="middle" class="tk" textLength="22.18" lengthAdjust="spacingAndGlyphs">15.0</text>
<text x="33.4" y="191.8" text-anchor="middle" class="tk" textLength="22.18" lengthAdjust="spacingAndGlyphs">20.0</text>
<text x="45.5" y="319.5" text-anchor="middle" class="tk">0</text>
<text x="78.32" y="319.5" text-anchor="middle" class="tk">30</text>
<text x="109.03" y="319.5" text-anchor="middle" class="tk">60</text>
<text x="139.75" y="319.5" text-anchor="middle" class="tk">90</text>
<text x="170.47" y="319.5" text-anchor="middle" class="tk">120</text>
<text x="201.18" y="319.5" text-anchor="middle" class="tk">150</text>
<text x="231.9" y="319.5" text-anchor="middle" class="tk">180</text>
<text transform="translate(11.5,244.75) rotate(-90)" text-anchor="middle" class="yl" textLength="133" lengthAdjust="spacingAndGlyphs">Occurrence Rate [%]</text>
<text x="52.9" y="200" class="pl">(d)</text>
<rect x="163" y="198.1" width="7.6" height="4" fill="#FF5A00"/>
<text x="177.6" y="202.7" class="lg" fill="#FF5A00" stroke="#FF5A00" textLength="44.2" lengthAdjust="spacingAndGlyphs">high cor</text>
<text x="115.15" y="339.2" class="th">θ</text>
<text x="124.35" y="342.6" class="sb" textLength="13.4" lengthAdjust="spacingAndGlyphs">BV</text>
<text x="140.45" y="338.4" class="br">[</text>
<text x="148.85" y="336.7" class="dg">°</text>
<text x="163.05" y="338.4" class="br">]</text>
<line x1="305.4" y1="305.5" x2="308.9" y2="305.5" stroke="#d6d6d6" stroke-width="0.8"/>
<line x1="490" y1="305.5" x2="486.5" y2="305.5" stroke="#d6d6d6" stroke-width="0.8"/>
<line x1="305.4" y1="299.5" x2="307.4" y2="299.5" stroke="#d6d6d6" stroke-width="0.8"/>
<line x1="490" y1="299.5" x2="488" y2="299.5" stroke="#d6d6d6" stroke-width="0.8"/>
<line x1="305.4" y1="293.49" x2="307.4" y2="293.49" stroke="#d6d6d6" stroke-width="0.8"/>
<line x1="490" y1="293.49" x2="488" y2="293.49" stroke="#d6d6d6" stroke-width="0.8"/>
<line x1="305.4" y1="287.49" x2="307.4" y2="287.49" stroke="#d6d6d6" stroke-width="0.8"/>
<line x1="490" y1="287.49" x2="488" y2="287.49" stroke="#d6d6d6" stroke-width="0.8"/>
<line x1="305.4" y1="281.48" x2="307.4" y2="281.48" stroke="#d6d6d6" stroke-width="0.8"/>
<line x1="490" y1="281.48" x2="488" y2="281.48" stroke="#d6d6d6" stroke-width="0.8"/>
<line x1="305.4" y1="275.48" x2="308.9" y2="275.48" stroke="#d6d6d6" stroke-width="0.8"/>
<line x1="490" y1="275.48" x2="486.5" y2="275.48" stroke="#d6d6d6" stroke-width="0.8"/>
<line x1="305.4" y1="269.47" x2="307.4" y2="269.47" stroke="#d6d6d6" stroke-width="0.8"/>
<line x1="490" y1="269.47" x2="488" y2="269.47" stroke="#d6d6d6" stroke-width="0.8"/>
<line x1="305.4" y1="263.47" x2="307.4" y2="263.47" stroke="#d6d6d6" stroke-width="0.8"/>
<line x1="490" y1="263.47" x2="488" y2="263.47" stroke="#d6d6d6" stroke-width="0.8"/>
<line x1="305.4" y1="257.46" x2="307.4" y2="257.46" stroke="#d6d6d6" stroke-width="0.8"/>
<line x1="490" y1="257.46" x2="488" y2="257.46" stroke="#d6d6d6" stroke-width="0.8"/>
<line x1="305.4" y1="251.46" x2="307.4" y2="251.46" stroke="#d6d6d6" stroke-width="0.8"/>
<line x1="490" y1="251.46" x2="488" y2="251.46" stroke="#d6d6d6" stroke-width="0.8"/>
<line x1="305.4" y1="245.45" x2="308.9" y2="245.45" stroke="#d6d6d6" stroke-width="0.8"/>
<line x1="490" y1="245.45" x2="486.5" y2="245.45" stroke="#d6d6d6" stroke-width="0.8"/>
<line x1="305.4" y1="239.44" x2="307.4" y2="239.44" stroke="#d6d6d6" stroke-width="0.8"/>
<line x1="490" y1="239.44" x2="488" y2="239.44" stroke="#d6d6d6" stroke-width="0.8"/>
<line x1="305.4" y1="233.44" x2="307.4" y2="233.44" stroke="#d6d6d6" stroke-width="0.8"/>
<line x1="490" y1="233.44" x2="488" y2="233.44" stroke="#d6d6d6" stroke-width="0.8"/>
<line x1="305.4" y1="227.44" x2="307.4" y2="227.44" stroke="#d6d6d6" stroke-width="0.8"/>
<line x1="490" y1="227.44" x2="488" y2="227.44" stroke="#d6d6d6" stroke-width="0.8"/>
<line x1="305.4" y1="221.43" x2="307.4" y2="221.43" stroke="#d6d6d6" stroke-width="0.8"/>
<line x1="490" y1="221.43" x2="488" y2="221.43" stroke="#d6d6d6" stroke-width="0.8"/>
<line x1="305.4" y1="215.43" x2="308.9" y2="215.43" stroke="#d6d6d6" stroke-width="0.8"/>
<line x1="490" y1="215.43" x2="486.5" y2="215.43" stroke="#d6d6d6" stroke-width="0.8"/>
<line x1="305.4" y1="209.42" x2="307.4" y2="209.42" stroke="#d6d6d6" stroke-width="0.8"/>
<line x1="490" y1="209.42" x2="488" y2="209.42" stroke="#d6d6d6" stroke-width="0.8"/>
<line x1="305.4" y1="203.42" x2="307.4" y2="203.42" stroke="#d6d6d6" stroke-width="0.8"/>
<line x1="490" y1="203.42" x2="488" y2="203.42" stroke="#d6d6d6" stroke-width="0.8"/>
<line x1="305.4" y1="197.41" x2="307.4" y2="197.41" stroke="#d6d6d6" stroke-width="0.8"/>
<line x1="490" y1="197.41" x2="488" y2="197.41" stroke="#d6d6d6" stroke-width="0.8"/>
<line x1="305.4" y1="191.41" x2="307.4" y2="191.41" stroke="#d6d6d6" stroke-width="0.8"/>
<line x1="490" y1="191.41" x2="488" y2="191.41" stroke="#d6d6d6" stroke-width="0.8"/>
<line x1="305.4" y1="185.4" x2="308.9" y2="185.4" stroke="#d6d6d6" stroke-width="0.8"/>
<line x1="490" y1="185.4" x2="486.5" y2="185.4" stroke="#d6d6d6" stroke-width="0.8"/>
<rect x="305.5" y="185.5" width="185" height="120" fill="none" stroke="#e0e0e0" stroke-width="1"/>
<path d="M305.4 306 L305.4 303.7 L315.66 303.7 L315.66 286.8 L325.91 286.8 L325.91 264.5 L336.17 264.5 L336.17 236.8 L346.42 236.8 L346.42 235 L356.68 235 L356.68 238.2 L366.93 238.2 L366.93 264.5 L377.19 264.5 L377.19 279.2 L387.44 279.2 L387.44 288.2 L397.7 288.2 L397.7 294 L407.96 294 L407.96 287.6 L418.21 287.6 L418.21 282.4 L428.47 282.4 L428.47 259.2 L438.72 259.2 L438.72 260.5 L448.98 260.5 L448.98 260 L459.23 260 L459.23 270.3 L469.49 270.3 L469.49 292.9 L479.74 292.9 L479.74 300.8 L490 300.8 L490 306 Z" fill="#00B9FF"/>
<text x="291.5" y="308.9" text-anchor="middle" class="tk" textLength="15.85" lengthAdjust="spacingAndGlyphs">0.0</text>
<text x="291.5" y="281.07" text-anchor="middle" class="tk" textLength="15.85" lengthAdjust="spacingAndGlyphs">5.0</text>
<text x="291.5" y="251.05" text-anchor="middle" class="tk" textLength="22.18" lengthAdjust="spacingAndGlyphs">10.0</text>
<text x="291.5" y="221.03" text-anchor="middle" class="tk" textLength="22.18" lengthAdjust="spacingAndGlyphs">15.0</text>
<text x="291.5" y="191.8" text-anchor="middle" class="tk" textLength="22.18" lengthAdjust="spacingAndGlyphs">20.0</text>
<text x="303.6" y="319.5" text-anchor="middle" class="tk">0</text>
<text x="336.47" y="319.5" text-anchor="middle" class="tk">30</text>
<text x="367.23" y="319.5" text-anchor="middle" class="tk">60</text>
<text x="398" y="319.5" text-anchor="middle" class="tk">90</text>
<text x="428.77" y="319.5" text-anchor="middle" class="tk">120</text>
<text x="459.53" y="319.5" text-anchor="middle" class="tk">150</text>
<text x="490.3" y="319.5" text-anchor="middle" class="tk">180</text>
<text transform="translate(269.6,244.75) rotate(-90)" text-anchor="middle" class="yl" textLength="133" lengthAdjust="spacingAndGlyphs">Occurrence Rate [%]</text>
<text x="311" y="200" class="pl">(e)</text>
<rect x="403" y="198.1" width="7.6" height="4" fill="#00B9FF"/>
<text x="418.4" y="202.7" class="lg" fill="#00B9FF" stroke="#00B9FF" textLength="65.3" lengthAdjust="spacingAndGlyphs">medium cor</text>
<text x="373.4" y="339.2" class="th">θ</text>
<text x="382.6" y="342.6" class="sb" textLength="13.4" lengthAdjust="spacingAndGlyphs">BV</text>
<text x="398.7" y="338.4" class="br">[</text>
<text x="407.1" y="336.7" class="dg">°</text>
<text x="421.3" y="338.4" class="br">]</text>
<line x1="565.8" y1="305.5" x2="569.3" y2="305.5" stroke="#d6d6d6" stroke-width="0.8"/>
<line x1="750.3" y1="305.5" x2="746.8" y2="305.5" stroke="#d6d6d6" stroke-width="0.8"/>
<line x1="565.8" y1="299.5" x2="567.8" y2="299.5" stroke="#d6d6d6" stroke-width="0.8"/>
<line x1="750.3" y1="299.5" x2="748.3" y2="299.5" stroke="#d6d6d6" stroke-width="0.8"/>
<line x1="565.8" y1="293.49" x2="567.8" y2="293.49" stroke="#d6d6d6" stroke-width="0.8"/>
<line x1="750.3" y1="293.49" x2="748.3" y2="293.49" stroke="#d6d6d6" stroke-width="0.8"/>
<line x1="565.8" y1="287.49" x2="567.8" y2="287.49" stroke="#d6d6d6" stroke-width="0.8"/>
<line x1="750.3" y1="287.49" x2="748.3" y2="287.49" stroke="#d6d6d6" stroke-width="0.8"/>
<line x1="565.8" y1="281.48" x2="567.8" y2="281.48" stroke="#d6d6d6" stroke-width="0.8"/>
<line x1="750.3" y1="281.48" x2="748.3" y2="281.48" stroke="#d6d6d6" stroke-width="0.8"/>
<line x1="565.8" y1="275.48" x2="569.3" y2="275.48" stroke="#d6d6d6" stroke-width="0.8"/>
<line x1="750.3" y1="275.48" x2="746.8" y2="275.48" stroke="#d6d6d6" stroke-width="0.8"/>
<line x1="565.8" y1="269.47" x2="567.8" y2="269.47" stroke="#d6d6d6" stroke-width="0.8"/>
<line x1="750.3" y1="269.47" x2="748.3" y2="269.47" stroke="#d6d6d6" stroke-width="0.8"/>
<line x1="565.8" y1="263.47" x2="567.8" y2="263.47" stroke="#d6d6d6" stroke-width="0.8"/>
<line x1="750.3" y1="263.47" x2="748.3" y2="263.47" stroke="#d6d6d6" stroke-width="0.8"/>
<line x1="565.8" y1="257.46" x2="567.8" y2="257.46" stroke="#d6d6d6" stroke-width="0.8"/>
<line x1="750.3" y1="257.46" x2="748.3" y2="257.46" stroke="#d6d6d6" stroke-width="0.8"/>
<line x1="565.8" y1="251.46" x2="567.8" y2="251.46" stroke="#d6d6d6" stroke-width="0.8"/>
<line x1="750.3" y1="251.46" x2="748.3" y2="251.46" stroke="#d6d6d6" stroke-width="0.8"/>
<line x1="565.8" y1="245.45" x2="569.3" y2="245.45" stroke="#d6d6d6" stroke-width="0.8"/>
<line x1="750.3" y1="245.45" x2="746.8" y2="245.45" stroke="#d6d6d6" stroke-width="0.8"/>
<line x1="565.8" y1="239.44" x2="567.8" y2="239.44" stroke="#d6d6d6" stroke-width="0.8"/>
<line x1="750.3" y1="239.44" x2="748.3" y2="239.44" stroke="#d6d6d6" stroke-width="0.8"/>
<line x1="565.8" y1="233.44" x2="567.8" y2="233.44" stroke="#d6d6d6" stroke-width="0.8"/>
<line x1="750.3" y1="233.44" x2="748.3" y2="233.44" stroke="#d6d6d6" stroke-width="0.8"/>
<line x1="565.8" y1="227.44" x2="567.8" y2="227.44" stroke="#d6d6d6" stroke-width="0.8"/>
<line x1="750.3" y1="227.44" x2="748.3" y2="227.44" stroke="#d6d6d6" stroke-width="0.8"/>
<line x1="565.8" y1="221.43" x2="567.8" y2="221.43" stroke="#d6d6d6" stroke-width="0.8"/>
<line x1="750.3" y1="221.43" x2="748.3" y2="221.43" stroke="#d6d6d6" stroke-width="0.8"/>
<line x1="565.8" y1="215.43" x2="569.3" y2="215.43" stroke="#d6d6d6" stroke-width="0.8"/>
<line x1="750.3" y1="215.43" x2="746.8" y2="215.43" stroke="#d6d6d6" stroke-width="0.8"/>
<line x1="565.8" y1="209.42" x2="567.8" y2="209.42" stroke="#d6d6d6" stroke-width="0.8"/>
<line x1="750.3" y1="209.42" x2="748.3" y2="209.42" stroke="#d6d6d6" stroke-width="0.8"/>
<line x1="565.8" y1="203.42" x2="567.8" y2="203.42" stroke="#d6d6d6" stroke-width="0.8"/>
<line x1="750.3" y1="203.42" x2="748.3" y2="203.42" stroke="#d6d6d6" stroke-width="0.8"/>
<line x1="565.8" y1="197.41" x2="567.8" y2="197.41" stroke="#d6d6d6" stroke-width="0.8"/>
<line x1="750.3" y1="197.41" x2="748.3" y2="197.41" stroke="#d6d6d6" stroke-width="0.8"/>
<line x1="565.8" y1="191.41" x2="567.8" y2="191.41" stroke="#d6d6d6" stroke-width="0.8"/>
<line x1="750.3" y1="191.41" x2="748.3" y2="191.41" stroke="#d6d6d6" stroke-width="0.8"/>
<line x1="565.8" y1="185.4" x2="569.3" y2="185.4" stroke="#d6d6d6" stroke-width="0.8"/>
<line x1="750.3" y1="185.4" x2="746.8" y2="185.4" stroke="#d6d6d6" stroke-width="0.8"/>
<rect x="565.5" y="185.5" width="185" height="120" fill="none" stroke="#e0e0e0" stroke-width="1"/>
<path d="M565.8 306 L565.8 294.7 L576.05 294.7 L576.05 273.2 L586.3 273.2 L586.3 249.5 L596.55 249.5 L596.55 204.7 L606.8 204.7 L606.8 242.6 L617.05 242.6 L617.05 257.1 L627.3 257.1 L627.3 277.6 L637.55 277.6 L637.55 293.4 L647.8 293.4 L647.8 296.8 L658.05 296.8 L658.05 298.2 L668.3 298.2 L668.3 300.5 L678.55 300.5 L678.55 293.7 L688.8 293.7 L688.8 265 L699.05 265 L699.05 248.2 L709.3 248.2 L709.3 261.3 L719.55 261.3 L719.55 268.4 L729.8 268.4 L729.8 285.5 L740.05 285.5 L740.05 294.7 L750.3 294.7 L750.3 306 Z" fill="#180012"/>
<text x="551.9" y="308.9" text-anchor="middle" class="tk" textLength="15.85" lengthAdjust="spacingAndGlyphs">0.0</text>
<text x="551.9" y="281.07" text-anchor="middle" class="tk" textLength="15.85" lengthAdjust="spacingAndGlyphs">5.0</text>
<text x="551.9" y="251.05" text-anchor="middle" class="tk" textLength="22.18" lengthAdjust="spacingAndGlyphs">10.0</text>
<text x="551.9" y="221.03" text-anchor="middle" class="tk" textLength="22.18" lengthAdjust="spacingAndGlyphs">15.0</text>
<text x="551.9" y="191.8" text-anchor="middle" class="tk" textLength="22.18" lengthAdjust="spacingAndGlyphs">20.0</text>
<text x="564" y="319.5" text-anchor="middle" class="tk">0</text>
<text x="596.85" y="319.5" text-anchor="middle" class="tk">30</text>
<text x="627.6" y="319.5" text-anchor="middle" class="tk">60</text>
<text x="658.35" y="319.5" text-anchor="middle" class="tk">90</text>
<text x="689.1" y="319.5" text-anchor="middle" class="tk">120</text>
<text x="719.85" y="319.5" text-anchor="middle" class="tk">150</text>
<text x="750.6" y="319.5" text-anchor="middle" class="tk">180</text>
<text transform="translate(530,244.75) rotate(-90)" text-anchor="middle" class="yl" textLength="133" lengthAdjust="spacingAndGlyphs">Occurrence Rate [%]</text>
<text x="571.4" y="200" class="pl">(f)</text>
<rect x="686.2" y="198.1" width="7.6" height="4" fill="#180012"/>
<text x="700.8" y="202.7" class="lg" fill="#180012" stroke="#180012" textLength="39.5" lengthAdjust="spacingAndGlyphs">low cor</text>
<text x="633.75" y="339.2" class="th">θ</text>
<text x="642.95" y="342.6" class="sb" textLength="13.4" lengthAdjust="spacingAndGlyphs">BV</text>
<text x="659.05" y="338.4" class="br">[</text>
<text x="667.45" y="336.7" class="dg">°</text>
<text x="681.65" y="338.4" class="br">]</text>
<line x1="48.7" y1="481.8" x2="52.2" y2="481.8" stroke="#d6d6d6" stroke-width="0.8"/>
<line x1="233.4" y1="481.8" x2="229.9" y2="481.8" stroke="#d6d6d6" stroke-width="0.8"/>
<line x1="48.7" y1="475.77" x2="50.7" y2="475.77" stroke="#d6d6d6" stroke-width="0.8"/>
<line x1="233.4" y1="475.77" x2="231.4" y2="475.77" stroke="#d6d6d6" stroke-width="0.8"/>
<line x1="48.7" y1="469.74" x2="50.7" y2="469.74" stroke="#d6d6d6" stroke-width="0.8"/>
<line x1="233.4" y1="469.74" x2="231.4" y2="469.74" stroke="#d6d6d6" stroke-width="0.8"/>
<line x1="48.7" y1="463.71" x2="50.7" y2="463.71" stroke="#d6d6d6" stroke-width="0.8"/>
<line x1="233.4" y1="463.71" x2="231.4" y2="463.71" stroke="#d6d6d6" stroke-width="0.8"/>
<line x1="48.7" y1="457.68" x2="50.7" y2="457.68" stroke="#d6d6d6" stroke-width="0.8"/>
<line x1="233.4" y1="457.68" x2="231.4" y2="457.68" stroke="#d6d6d6" stroke-width="0.8"/>
<line x1="48.7" y1="451.65" x2="52.2" y2="451.65" stroke="#d6d6d6" stroke-width="0.8"/>
<line x1="233.4" y1="451.65" x2="229.9" y2="451.65" stroke="#d6d6d6" stroke-width="0.8"/>
<line x1="48.7" y1="445.62" x2="50.7" y2="445.62" stroke="#d6d6d6" stroke-width="0.8"/>
<line x1="233.4" y1="445.62" x2="231.4" y2="445.62" stroke="#d6d6d6" stroke-width="0.8"/>
<line x1="48.7" y1="439.59" x2="50.7" y2="439.59" stroke="#d6d6d6" stroke-width="0.8"/>
<line x1="233.4" y1="439.59" x2="231.4" y2="439.59" stroke="#d6d6d6" stroke-width="0.8"/>
<line x1="48.7" y1="433.56" x2="50.7" y2="433.56" stroke="#d6d6d6" stroke-width="0.8"/>
<line x1="233.4" y1="433.56" x2="231.4" y2="433.56" stroke="#d6d6d6" stroke-width="0.8"/>
<line x1="48.7" y1="427.53" x2="50.7" y2="427.53" stroke="#d6d6d6" stroke-width="0.8"/>
<line x1="233.4" y1="427.53" x2="231.4" y2="427.53" stroke="#d6d6d6" stroke-width="0.8"/>
<line x1="48.7" y1="421.5" x2="52.2" y2="421.5" stroke="#d6d6d6" stroke-width="0.8"/>
<line x1="233.4" y1="421.5" x2="229.9" y2="421.5" stroke="#d6d6d6" stroke-width="0.8"/>
<line x1="48.7" y1="415.47" x2="50.7" y2="415.47" stroke="#d6d6d6" stroke-width="0.8"/>
<line x1="233.4" y1="415.47" x2="231.4" y2="415.47" stroke="#d6d6d6" stroke-width="0.8"/>
<line x1="48.7" y1="409.44" x2="50.7" y2="409.44" stroke="#d6d6d6" stroke-width="0.8"/>
<line x1="233.4" y1="409.44" x2="231.4" y2="409.44" stroke="#d6d6d6" stroke-width="0.8"/>
<line x1="48.7" y1="403.41" x2="50.7" y2="403.41" stroke="#d6d6d6" stroke-width="0.8"/>
<line x1="233.4" y1="403.41" x2="231.4" y2="403.41" stroke="#d6d6d6" stroke-width="0.8"/>
<line x1="48.7" y1="397.38" x2="50.7" y2="397.38" stroke="#d6d6d6" stroke-width="0.8"/>
<line x1="233.4" y1="397.38" x2="231.4" y2="397.38" stroke="#d6d6d6" stroke-width="0.8"/>
<line x1="48.7" y1="391.35" x2="52.2" y2="391.35" stroke="#d6d6d6" stroke-width="0.8"/>
<line x1="233.4" y1="391.35" x2="229.9" y2="391.35" stroke="#d6d6d6" stroke-width="0.8"/>
<line x1="48.7" y1="385.32" x2="50.7" y2="385.32" stroke="#d6d6d6" stroke-width="0.8"/>
<line x1="233.4" y1="385.32" x2="231.4" y2="385.32" stroke="#d6d6d6" stroke-width="0.8"/>
<line x1="48.7" y1="379.29" x2="50.7" y2="379.29" stroke="#d6d6d6" stroke-width="0.8"/>
<line x1="233.4" y1="379.29" x2="231.4" y2="379.29" stroke="#d6d6d6" stroke-width="0.8"/>
<line x1="48.7" y1="373.26" x2="50.7" y2="373.26" stroke="#d6d6d6" stroke-width="0.8"/>
<line x1="233.4" y1="373.26" x2="231.4" y2="373.26" stroke="#d6d6d6" stroke-width="0.8"/>
<line x1="48.7" y1="367.23" x2="50.7" y2="367.23" stroke="#d6d6d6" stroke-width="0.8"/>
<line x1="233.4" y1="367.23" x2="231.4" y2="367.23" stroke="#d6d6d6" stroke-width="0.8"/>
<line x1="48.7" y1="361.2" x2="52.2" y2="361.2" stroke="#d6d6d6" stroke-width="0.8"/>
<line x1="233.4" y1="361.2" x2="229.9" y2="361.2" stroke="#d6d6d6" stroke-width="0.8"/>
<rect x="48.5" y="361.5" width="185" height="120" fill="none" stroke="#e0e0e0" stroke-width="1"/>
<path d="M48.7 482 L48.7 448.4 L65.49 448.4 L65.49 407.6 L82.28 407.6 L82.28 382.4 L99.07 382.4 L99.07 400.3 L115.86 400.3 L115.86 415 L132.65 415 L132.65 432.9 L149.45 432.9 L149.45 411.8 L166.24 411.8 L166.24 422.4 L183.03 422.4 L183.03 438.2 L199.82 438.2 L199.82 460 L216.61 460 L216.61 478.7 L233.4 478.7 L233.4 482 Z" fill="#FF5A00"/>
<text x="34.6" y="485.2" text-anchor="middle" class="tk" textLength="15.85" lengthAdjust="spacingAndGlyphs">0.0</text>
<text x="34.6" y="457.25" text-anchor="middle" class="tk" textLength="15.85" lengthAdjust="spacingAndGlyphs">5.0</text>
<text x="34.6" y="427.1" text-anchor="middle" class="tk" textLength="22.18" lengthAdjust="spacingAndGlyphs">10.0</text>
<text x="34.6" y="396.95" text-anchor="middle" class="tk" textLength="22.18" lengthAdjust="spacingAndGlyphs">15.0</text>
<text x="34.6" y="367.6" text-anchor="middle" class="tk" textLength="22.18" lengthAdjust="spacingAndGlyphs">20.0</text>
<text x="46.9" y="495.8" text-anchor="middle" class="tk">0</text>
<text x="82.58" y="495.8" text-anchor="middle" class="tk">20</text>
<text x="116.16" y="495.8" text-anchor="middle" class="tk">40</text>
<text x="149.75" y="495.8" text-anchor="middle" class="tk">60</text>
<text x="183.33" y="495.8" text-anchor="middle" class="tk">80</text>
<text x="216.91" y="495.8" text-anchor="middle" class="tk">100</text>
<text transform="translate(12.9,420.8) rotate(-90)" text-anchor="middle" class="yl" textLength="133" lengthAdjust="spacingAndGlyphs">Occurrence Rate [%]</text>
<text x="54.7" y="376.6" class="pl">(g)</text>
<rect x="163" y="373.8" width="7.6" height="4" fill="#FF5A00"/>
<text x="178.2" y="378.8" class="lg" fill="#FF5A00" stroke="#FF5A00" textLength="44.7" lengthAdjust="spacingAndGlyphs">high cor</text>
<path d="M90.95 517.3 L92.65 516.2 L95.45 522.8 L99.95 506.4 L164.55 506.4" fill="none" stroke="#111" stroke-width="1.25"/>
<text x="101.65" y="519.8" class="fm">Δy</text>
<text x="117.35" y="515.8" class="sp">2</text>
<text x="128.05" y="518.8" class="fm pl2">+</text>
<text x="141.65" y="519.8" class="fm">Δz</text>
<text x="157.65" y="515.8" class="sp">2</text>
<text x="166.95" y="518.3" class="br2">[</text>
<text x="171.05" y="518.7" class="fm" style="font-size:14.2px">R</text>
<text x="181.15" y="521.6" class="sb2" textLength="5.4" lengthAdjust="spacingAndGlyphs">E</text>
<text x="189.55" y="518.3" class="br2">]</text>
<line x1="306.8" y1="481.8" x2="310.3" y2="481.8" stroke="#d6d6d6" stroke-width="0.8"/>
<line x1="491.3" y1="481.8" x2="487.8" y2="481.8" stroke="#d6d6d6" stroke-width="0.8"/>
<line x1="306.8" y1="475.77" x2="308.8" y2="475.77" stroke="#d6d6d6" stroke-width="0.8"/>
<line x1="491.3" y1="475.77" x2="489.3" y2="475.77" stroke="#d6d6d6" stroke-width="0.8"/>
<line x1="306.8" y1="469.74" x2="308.8" y2="469.74" stroke="#d6d6d6" stroke-width="0.8"/>
<line x1="491.3" y1="469.74" x2="489.3" y2="469.74" stroke="#d6d6d6" stroke-width="0.8"/>
<line x1="306.8" y1="463.71" x2="308.8" y2="463.71" stroke="#d6d6d6" stroke-width="0.8"/>
<line x1="491.3" y1="463.71" x2="489.3" y2="463.71" stroke="#d6d6d6" stroke-width="0.8"/>
<line x1="306.8" y1="457.68" x2="308.8" y2="457.68" stroke="#d6d6d6" stroke-width="0.8"/>
<line x1="491.3" y1="457.68" x2="489.3" y2="457.68" stroke="#d6d6d6" stroke-width="0.8"/>
<line x1="306.8" y1="451.65" x2="310.3" y2="451.65" stroke="#d6d6d6" stroke-width="0.8"/>
<line x1="491.3" y1="451.65" x2="487.8" y2="451.65" stroke="#d6d6d6" stroke-width="0.8"/>
<line x1="306.8" y1="445.62" x2="308.8" y2="445.62" stroke="#d6d6d6" stroke-width="0.8"/>
<line x1="491.3" y1="445.62" x2="489.3" y2="445.62" stroke="#d6d6d6" stroke-width="0.8"/>
<line x1="306.8" y1="439.59" x2="308.8" y2="439.59" stroke="#d6d6d6" stroke-width="0.8"/>
<line x1="491.3" y1="439.59" x2="489.3" y2="439.59" stroke="#d6d6d6" stroke-width="0.8"/>
<line x1="306.8" y1="433.56" x2="308.8" y2="433.56" stroke="#d6d6d6" stroke-width="0.8"/>
<line x1="491.3" y1="433.56" x2="489.3" y2="433.56" stroke="#d6d6d6" stroke-width="0.8"/>
<line x1="306.8" y1="427.53" x2="308.8" y2="427.53" stroke="#d6d6d6" stroke-width="0.8"/>
<line x1="491.3" y1="427.53" x2="489.3" y2="427.53" stroke="#d6d6d6" stroke-width="0.8"/>
<line x1="306.8" y1="421.5" x2="310.3" y2="421.5" stroke="#d6d6d6" stroke-width="0.8"/>
<line x1="491.3" y1="421.5" x2="487.8" y2="421.5" stroke="#d6d6d6" stroke-width="0.8"/>
<line x1="306.8" y1="415.47" x2="308.8" y2="415.47" stroke="#d6d6d6" stroke-width="0.8"/>
<line x1="491.3" y1="415.47" x2="489.3" y2="415.47" stroke="#d6d6d6" stroke-width="0.8"/>
<line x1="306.8" y1="409.44" x2="308.8" y2="409.44" stroke="#d6d6d6" stroke-width="0.8"/>
<line x1="491.3" y1="409.44" x2="489.3" y2="409.44" stroke="#d6d6d6" stroke-width="0.8"/>
<line x1="306.8" y1="403.41" x2="308.8" y2="403.41" stroke="#d6d6d6" stroke-width="0.8"/>
<line x1="491.3" y1="403.41" x2="489.3" y2="403.41" stroke="#d6d6d6" stroke-width="0.8"/>
<line x1="306.8" y1="397.38" x2="308.8" y2="397.38" stroke="#d6d6d6" stroke-width="0.8"/>
<line x1="491.3" y1="397.38" x2="489.3" y2="397.38" stroke="#d6d6d6" stroke-width="0.8"/>
<line x1="306.8" y1="391.35" x2="310.3" y2="391.35" stroke="#d6d6d6" stroke-width="0.8"/>
<line x1="491.3" y1="391.35" x2="487.8" y2="391.35" stroke="#d6d6d6" stroke-width="0.8"/>
<line x1="306.8" y1="385.32" x2="308.8" y2="385.32" stroke="#d6d6d6" stroke-width="0.8"/>
<line x1="491.3" y1="385.32" x2="489.3" y2="385.32" stroke="#d6d6d6" stroke-width="0.8"/>
<line x1="306.8" y1="379.29" x2="308.8" y2="379.29" stroke="#d6d6d6" stroke-width="0.8"/>
<line x1="491.3" y1="379.29" x2="489.3" y2="379.29" stroke="#d6d6d6" stroke-width="0.8"/>
<line x1="306.8" y1="373.26" x2="308.8" y2="373.26" stroke="#d6d6d6" stroke-width="0.8"/>
<line x1="491.3" y1="373.26" x2="489.3" y2="373.26" stroke="#d6d6d6" stroke-width="0.8"/>
<line x1="306.8" y1="367.23" x2="308.8" y2="367.23" stroke="#d6d6d6" stroke-width="0.8"/>
<line x1="491.3" y1="367.23" x2="489.3" y2="367.23" stroke="#d6d6d6" stroke-width="0.8"/>
<line x1="306.8" y1="361.2" x2="310.3" y2="361.2" stroke="#d6d6d6" stroke-width="0.8"/>
<line x1="491.3" y1="361.2" x2="487.8" y2="361.2" stroke="#d6d6d6" stroke-width="0.8"/>
<rect x="306.5" y="361.5" width="185" height="120" fill="none" stroke="#e0e0e0" stroke-width="1"/>
<path d="M306.8 482 L306.8 461.8 L323.57 461.8 L323.57 426.8 L340.35 426.8 L340.35 403.4 L357.12 403.4 L357.12 407.9 L373.89 407.9 L373.89 403.4 L390.66 403.4 L390.66 399.2 L407.44 399.2 L407.44 412.6 L424.21 412.6 L424.21 412.1 L440.98 412.1 L440.98 436 L457.75 436 L457.75 462.4 L474.53 462.4 L474.53 471.8 L491.3 471.8 L491.3 482 Z" fill="#00B9FF"/>
<text x="292.7" y="485.2" text-anchor="middle" class="tk" textLength="15.85" lengthAdjust="spacingAndGlyphs">0.0</text>
<text x="292.7" y="457.25" text-anchor="middle" class="tk" textLength="15.85" lengthAdjust="spacingAndGlyphs">5.0</text>
<text x="292.7" y="427.1" text-anchor="middle" class="tk" textLength="22.18" lengthAdjust="spacingAndGlyphs">10.0</text>
<text x="292.7" y="396.95" text-anchor="middle" class="tk" textLength="22.18" lengthAdjust="spacingAndGlyphs">15.0</text>
<text x="292.7" y="367.6" text-anchor="middle" class="tk" textLength="22.18" lengthAdjust="spacingAndGlyphs">20.0</text>
<text x="305" y="495.8" text-anchor="middle" class="tk">0</text>
<text x="340.65" y="495.8" text-anchor="middle" class="tk">20</text>
<text x="374.19" y="495.8" text-anchor="middle" class="tk">40</text>
<text x="407.74" y="495.8" text-anchor="middle" class="tk">60</text>
<text x="441.28" y="495.8" text-anchor="middle" class="tk">80</text>
<text x="474.83" y="495.8" text-anchor="middle" class="tk">100</text>
<text transform="translate(271,420.8) rotate(-90)" text-anchor="middle" class="yl" textLength="133" lengthAdjust="spacingAndGlyphs">Occurrence Rate [%]</text>
<text x="312.8" y="376.6" class="pl">(h)</text>
<rect x="403" y="373.8" width="7.6" height="4" fill="#00B9FF"/>
<text x="418.4" y="378.8" class="lg" fill="#00B9FF" stroke="#00B9FF" textLength="65.8" lengthAdjust="spacingAndGlyphs">medium cor</text>
<path d="M348.95 517.3 L350.65 516.2 L353.45 522.8 L357.95 506.4 L422.55 506.4" fill="none" stroke="#111" stroke-width="1.25"/>
<text x="359.65" y="519.8" class="fm">Δy</text>
<text x="375.35" y="515.8" class="sp">2</text>
<text x="386.05" y="518.8" class="fm pl2">+</text>
<text x="399.65" y="519.8" class="fm">Δz</text>
<text x="415.65" y="515.8" class="sp">2</text>
<text x="424.95" y="518.3" class="br2">[</text>
<text x="429.05" y="518.7" class="fm" style="font-size:14.2px">R</text>
<text x="439.15" y="521.6" class="sb2" textLength="5.4" lengthAdjust="spacingAndGlyphs">E</text>
<text x="447.55" y="518.3" class="br2">]</text>
<line x1="566.6" y1="481.8" x2="570.1" y2="481.8" stroke="#d6d6d6" stroke-width="0.8"/>
<line x1="751" y1="481.8" x2="747.5" y2="481.8" stroke="#d6d6d6" stroke-width="0.8"/>
<line x1="566.6" y1="475.77" x2="568.6" y2="475.77" stroke="#d6d6d6" stroke-width="0.8"/>
<line x1="751" y1="475.77" x2="749" y2="475.77" stroke="#d6d6d6" stroke-width="0.8"/>
<line x1="566.6" y1="469.74" x2="568.6" y2="469.74" stroke="#d6d6d6" stroke-width="0.8"/>
<line x1="751" y1="469.74" x2="749" y2="469.74" stroke="#d6d6d6" stroke-width="0.8"/>
<line x1="566.6" y1="463.71" x2="568.6" y2="463.71" stroke="#d6d6d6" stroke-width="0.8"/>
<line x1="751" y1="463.71" x2="749" y2="463.71" stroke="#d6d6d6" stroke-width="0.8"/>
<line x1="566.6" y1="457.68" x2="568.6" y2="457.68" stroke="#d6d6d6" stroke-width="0.8"/>
<line x1="751" y1="457.68" x2="749" y2="457.68" stroke="#d6d6d6" stroke-width="0.8"/>
<line x1="566.6" y1="451.65" x2="570.1" y2="451.65" stroke="#d6d6d6" stroke-width="0.8"/>
<line x1="751" y1="451.65" x2="747.5" y2="451.65" stroke="#d6d6d6" stroke-width="0.8"/>
<line x1="566.6" y1="445.62" x2="568.6" y2="445.62" stroke="#d6d6d6" stroke-width="0.8"/>
<line x1="751" y1="445.62" x2="749" y2="445.62" stroke="#d6d6d6" stroke-width="0.8"/>
<line x1="566.6" y1="439.59" x2="568.6" y2="439.59" stroke="#d6d6d6" stroke-width="0.8"/>
<line x1="751" y1="439.59" x2="749" y2="439.59" stroke="#d6d6d6" stroke-width="0.8"/>
<line x1="566.6" y1="433.56" x2="568.6" y2="433.56" stroke="#d6d6d6" stroke-width="0.8"/>
<line x1="751" y1="433.56" x2="749" y2="433.56" stroke="#d6d6d6" stroke-width="0.8"/>
<line x1="566.6" y1="427.53" x2="568.6" y2="427.53" stroke="#d6d6d6" stroke-width="0.8"/>
<line x1="751" y1="427.53" x2="749" y2="427.53" stroke="#d6d6d6" stroke-width="0.8"/>
<line x1="566.6" y1="421.5" x2="570.1" y2="421.5" stroke="#d6d6d6" stroke-width="0.8"/>
<line x1="751" y1="421.5" x2="747.5" y2="421.5" stroke="#d6d6d6" stroke-width="0.8"/>
<line x1="566.6" y1="415.47" x2="568.6" y2="415.47" stroke="#d6d6d6" stroke-width="0.8"/>
<line x1="751" y1="415.47" x2="749" y2="415.47" stroke="#d6d6d6" stroke-width="0.8"/>
<line x1="566.6" y1="409.44" x2="568.6" y2="409.44" stroke="#d6d6d6" stroke-width="0.8"/>
<line x1="751" y1="409.44" x2="749" y2="409.44" stroke="#d6d6d6" stroke-width="0.8"/>
<line x1="566.6" y1="403.41" x2="568.6" y2="403.41" stroke="#d6d6d6" stroke-width="0.8"/>
<line x1="751" y1="403.41" x2="749" y2="403.41" stroke="#d6d6d6" stroke-width="0.8"/>
<line x1="566.6" y1="397.38" x2="568.6" y2="397.38" stroke="#d6d6d6" stroke-width="0.8"/>
<line x1="751" y1="397.38" x2="749" y2="397.38" stroke="#d6d6d6" stroke-width="0.8"/>
<line x1="566.6" y1="391.35" x2="570.1" y2="391.35" stroke="#d6d6d6" stroke-width="0.8"/>
<line x1="751" y1="391.35" x2="747.5" y2="391.35" stroke="#d6d6d6" stroke-width="0.8"/>
<line x1="566.6" y1="385.32" x2="568.6" y2="385.32" stroke="#d6d6d6" stroke-width="0.8"/>
<line x1="751" y1="385.32" x2="749" y2="385.32" stroke="#d6d6d6" stroke-width="0.8"/>
<line x1="566.6" y1="379.29" x2="568.6" y2="379.29" stroke="#d6d6d6" stroke-width="0.8"/>
<line x1="751" y1="379.29" x2="749" y2="379.29" stroke="#d6d6d6" stroke-width="0.8"/>
<line x1="566.6" y1="373.26" x2="568.6" y2="373.26" stroke="#d6d6d6" stroke-width="0.8"/>
<line x1="751" y1="373.26" x2="749" y2="373.26" stroke="#d6d6d6" stroke-width="0.8"/>
<line x1="566.6" y1="367.23" x2="568.6" y2="367.23" stroke="#d6d6d6" stroke-width="0.8"/>
<line x1="751" y1="367.23" x2="749" y2="367.23" stroke="#d6d6d6" stroke-width="0.8"/>
<line x1="566.6" y1="361.2" x2="570.1" y2="361.2" stroke="#d6d6d6" stroke-width="0.8"/>
<line x1="751" y1="361.2" x2="747.5" y2="361.2" stroke="#d6d6d6" stroke-width="0.8"/>
<rect x="566.5" y="361.5" width="184" height="120" fill="none" stroke="#e0e0e0" stroke-width="1"/>
<path d="M566.6 482 L566.6 461.6 L583.36 461.6 L583.36 420.5 L600.13 420.5 L600.13 418.2 L616.89 418.2 L616.89 365 L633.65 365 L633.65 391 L650.42 391 L650.42 400.3 L667.18 400.3 L667.18 425.3 L683.95 425.3 L683.95 428.7 L700.71 428.7 L700.71 450.3 L717.47 450.3 L717.47 469.7 L734.24 469.7 L734.24 468.4 L751 468.4 L751 482 Z" fill="#180012"/>
<text x="552.5" y="485.2" text-anchor="middle" class="tk" textLength="15.85" lengthAdjust="spacingAndGlyphs">0.0</text>
<text x="552.5" y="457.25" text-anchor="middle" class="tk" textLength="15.85" lengthAdjust="spacingAndGlyphs">5.0</text>
<text x="552.5" y="427.1" text-anchor="middle" class="tk" textLength="22.18" lengthAdjust="spacingAndGlyphs">10.0</text>
<text x="552.5" y="396.95" text-anchor="middle" class="tk" textLength="22.18" lengthAdjust="spacingAndGlyphs">15.0</text>
<text x="552.5" y="367.6" text-anchor="middle" class="tk" textLength="22.18" lengthAdjust="spacingAndGlyphs">20.0</text>
<text x="564.8" y="495.8" text-anchor="middle" class="tk">0</text>
<text x="600.43" y="495.8" text-anchor="middle" class="tk">20</text>
<text x="633.95" y="495.8" text-anchor="middle" class="tk">40</text>
<text x="667.48" y="495.8" text-anchor="middle" class="tk">60</text>
<text x="701.01" y="495.8" text-anchor="middle" class="tk">80</text>
<text x="734.54" y="495.8" text-anchor="middle" class="tk">100</text>
<text transform="translate(530.8,420.8) rotate(-90)" text-anchor="middle" class="yl" textLength="133" lengthAdjust="spacingAndGlyphs">Occurrence Rate [%]</text>
<text x="572.6" y="376.6" class="pl">(i)</text>
<rect x="686.2" y="373.8" width="7.6" height="4" fill="#180012"/>
<text x="700.8" y="378.8" class="lg" fill="#180012" stroke="#180012" textLength="39.5" lengthAdjust="spacingAndGlyphs">low cor</text>
<path d="M608.7 517.3 L610.4 516.2 L613.2 522.8 L617.7 506.4 L682.3 506.4" fill="none" stroke="#111" stroke-width="1.25"/>
<text x="619.4" y="519.8" class="fm">Δy</text>
<text x="635.1" y="515.8" class="sp">2</text>
<text x="645.8" y="518.8" class="fm pl2">+</text>
<text x="659.4" y="519.8" class="fm">Δz</text>
<text x="675.4" y="515.8" class="sp">2</text>
<text x="684.7" y="518.3" class="br2">[</text>
<text x="688.8" y="518.7" class="fm" style="font-size:14.2px">R</text>
<text x="698.9" y="521.6" class="sb2" textLength="5.4" lengthAdjust="spacingAndGlyphs">E</text>
<text x="707.3" y="518.3" class="br2">]</text>
</svg>
</body></html>
